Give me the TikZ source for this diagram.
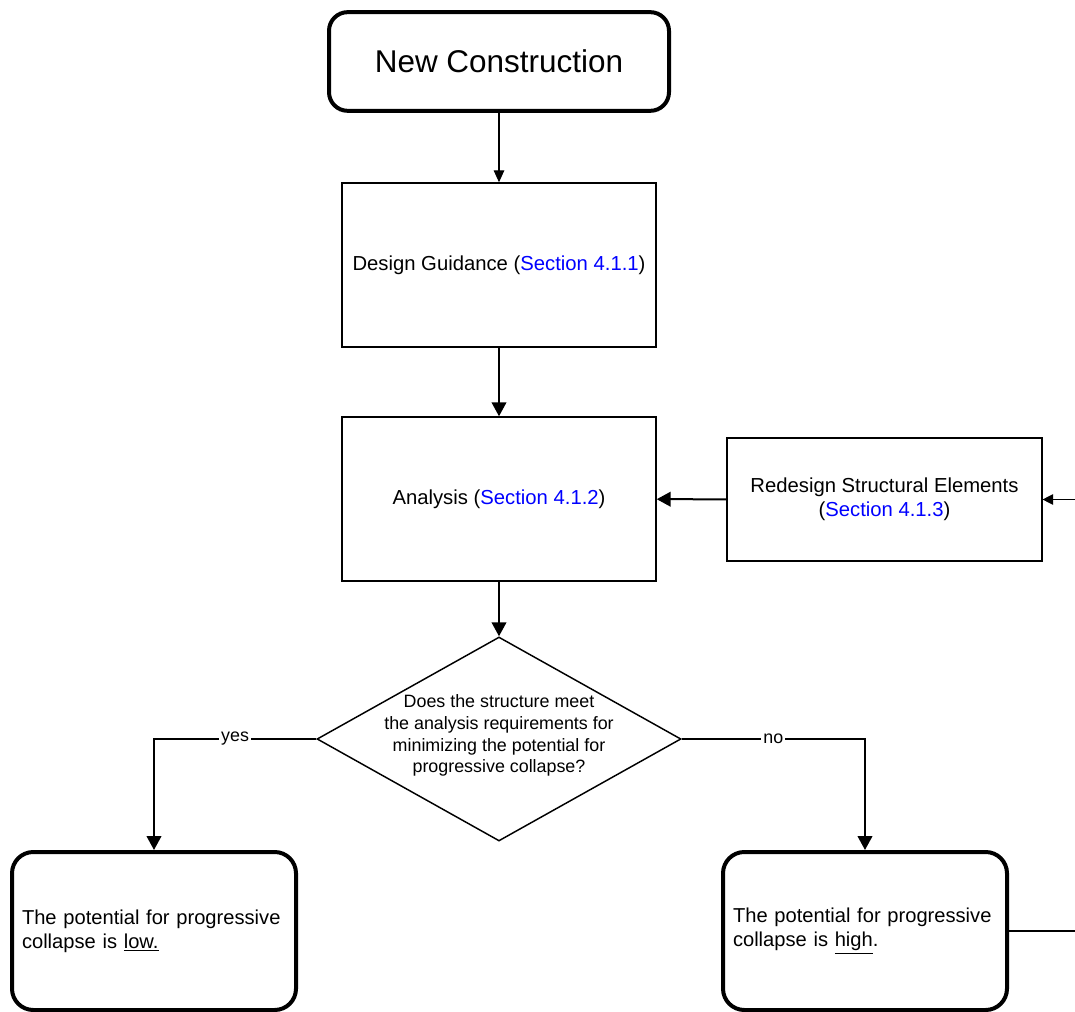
\documentclass[tikz,border=0pt]{standalone}
\usepackage{fontspec}
\setmainfont{Liberation Sans}
\usetikzlibrary{shapes.geometric, arrows.meta}

\begin{document}
\begin{tikzpicture}[x=0.75pt, y=-0.75pt,
    box/.style={draw, line width=1.1pt, minimum width=235.5pt, minimum height=123pt, font=\fontsize{15.2}{18}\selectfont, align=center},
    endbox/.style={draw, line width=3pt, rounded corners=16pt, minimum width=213pt, minimum height=118.5pt, text width=198pt, inner xsep=7.5pt, align=left, font=\fontsize{15.1}{18}\selectfont},
    arr/.style={line width=1.5pt, -{Triangle[length=10.5pt, width=11pt]}},
    lbl/.style={fill=white, inner sep=1.5pt, font=\fontsize{13.4}{16}\selectfont}]
  \definecolor{sec}{HTML}{0000FF}
  \useasboundingbox (0, 0) rectangle (1075, 1012);

  \node (start) at (499, 61.5) [draw, line width=3pt, rounded corners=14pt, minimum width=255pt, minimum height=74pt, font=\fontsize{23.6}{28}\selectfont] {New Construction};
  \node (design) at (499, 265) [box] {Design Guidance ({\color{sec}Section 4.1.1})};
  \node (analysis) at (499, 499) [box] {Analysis ({\color{sec}Section 4.1.2})};
  \node (redesign) at (884.5, 499.5) [box, minimum width=236pt, minimum height=92pt] {Redesign Structural Elements\\({\color{sec}Section 4.1.3})};
  \node (dec) at (499, 739) [draw, diamond, aspect=1.78, line width=1.1pt, minimum width=273pt, minimum height=153pt, inner sep=0pt] {\smash{\parbox[c]{180pt}{\centering\fontsize{13.4}{16.3}\selectfont Does the structure meet\\ the analysis requirements for\\ minimizing the potential for\\ progressive collapse?}}};
  \node (low) at (154, 931) [endbox] {The potential for progressive\\collapse is \underline{low.}};
  \node (high) at (865, 931) [endbox] {The potential for progressive\\collapse is \underline{high}.};

  \draw [line width=0.8pt, -{Triangle[length=9pt, width=8pt]}] (start) -- (design);
  \foreach \a/\b in {design/analysis, analysis/dec} { \draw [arr] (\a) -- (\b); }
  \draw [arr] (redesign) -- (analysis);
  \draw [arr] (dec.west) -| node [lbl, pos=.25] {yes} (low.north);
  \draw [arr] (dec.east) -| node [lbl, pos=.25] {no} (high.north);
  \draw [line width=0.8pt, -{Triangle[length=8pt, width=8pt]}] (high.east) -- ++(80, 0) |- (redesign.east);
\end{tikzpicture}
\end{document}
